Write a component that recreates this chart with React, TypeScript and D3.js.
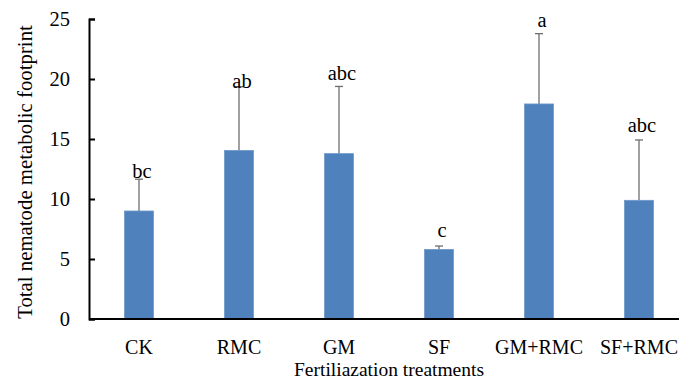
import React, { useEffect, useRef } from "react";
import * as d3 from "d3";

const treatments = ["CK", "RMC", "GM", "SF", "GM+RMC", "SF+RMC"];
const means = [9.0, 14.05, 13.78, 5.8, 17.92, 9.89];
const errorTops = [11.65, 19.36, 19.38, 6.08, 23.78, 14.92];
const letters = ["bc", "ab", "abc", "c", "a", "abc"];
const letterHeights = [11.75, 19.25, 19.95, 6.85, 24.35, 15.6];
const yTicks = [0, 5, 10, 15, 20, 25];

const FONT = "'Liberation Serif', 'Times New Roman', serif";
const FS = "20.5px";

const App: React.FC = () => {
  const svgRef = useRef<SVGSVGElement>(null);
  const width = 679;
  const height = 380;

  useEffect(() => {
    if (!svgRef.current) return;
    const svg = d3.select(svgRef.current);
    svg.selectAll("*").remove();

    const left = 89;
    const top = 19;
    const bottom = 319;

    const x = d3.scaleBand<string>()
      .domain(treatments)
      .range([left, left + 600])
      .paddingInner(0.71)
      .paddingOuter(0.355);

    const y = d3.scaleLinear().domain([0, 25]).range([bottom, top]);

    const rows = treatments.map((t, i) => ({
      t,
      mean: means[i],
      err: errorTops[i],
      letter: letters[i],
      ly: letterHeights[i],
    }));

    // error bars (upper only)
    const eb = svg.append("g");
    eb.selectAll("line.stem")
      .data(rows)
      .join("line")
      .attr("class", "stem")
      .attr("x1", d => x(d.t)! + x.bandwidth() / 2)
      .attr("x2", d => x(d.t)! + x.bandwidth() / 2)
      .attr("y1", d => y(d.mean))
      .attr("y2", d => y(d.err))
      .attr("stroke", "#6e6e6e")
      .attr("stroke-width", 1.3);
    eb.selectAll("line.cap")
      .data(rows)
      .join("line")
      .attr("class", "cap")
      .attr("x1", d => x(d.t)! + x.bandwidth() / 2 - 4)
      .attr("x2", d => x(d.t)! + x.bandwidth() / 2 + 4)
      .attr("y1", d => y(d.err))
      .attr("y2", d => y(d.err))
      .attr("stroke", "#6e6e6e")
      .attr("stroke-width", 1.3);

    svg.append("g")
      .selectAll("rect")
      .data(rows)
      .join("rect")
      .attr("x", d => x(d.t)!)
      .attr("y", d => y(d.mean))
      .attr("width", x.bandwidth())
      .attr("height", d => y(0) - y(d.mean))
      .attr("fill", "#4f81bd")
      .attr("stroke", "#6f98c9")
      .attr("stroke-width", 0.8);

    // significance letters
    svg.append("g")
      .selectAll("text")
      .data(rows)
      .join("text")
      .attr("x", d => x(d.t)! + x.bandwidth() / 2 + 3)
      .attr("y", d => y(d.ly))
      .attr("text-anchor", "middle")
      .style("font-family", FONT)
      .style("font-size", FS)
      .attr("fill", "#000")
      .text(d => d.letter);

    // y axis
    const yAxis = svg.append("g")
      .attr("transform", `translate(${left},0)`)
      .call(d3.axisRight(y).tickValues(yTicks).tickSize(6).tickSizeOuter(6).tickFormat(d3.format("d")));
    yAxis.select(".domain").attr("stroke", "#000").attr("stroke-width", 2);
    yAxis.selectAll(".tick line").attr("stroke", "#000").attr("stroke-width", 2);
    yAxis.selectAll(".tick text")
      .attr("x", -19)
      .attr("text-anchor", "end")
      .attr("dy", "0.34em")
      .style("font-family", FONT)
      .style("font-size", FS)
      .attr("fill", "#000");

    // x axis
    svg.append("line")
      .attr("x1", left)
      .attr("x2", width)
      .attr("y1", bottom)
      .attr("y2", bottom)
      .attr("stroke", "#000")
      .attr("stroke-width", 2);

    svg.append("g")
      .selectAll("text")
      .data(treatments)
      .join("text")
      .attr("x", d => x(d)! + x.bandwidth() / 2)
      .attr("y", 353.7)
      .attr("text-anchor", "middle")
      .style("font-family", FONT)
      .style("font-size", "20px")
      .attr("fill", "#000")
      .text(d => d);

    svg.append("text")
      .attr("x", (left + left + 600) / 2)
      .attr("y", 375.5)
      .attr("text-anchor", "middle")
      .style("font-family", FONT)
      .style("font-size", "19.5px")
      .attr("fill", "#000")
      .text("Fertiliazation treatments");

    svg.append("text")
      .attr("transform", `translate(32,${(top + bottom) / 2 + 3}) rotate(-90)`)
      .attr("text-anchor", "middle")
      .style("font-family", FONT)
      .style("font-size", "20.8px")
      .attr("fill", "#000")
      .text("Total nematode metabolic footprint");
  }, []);

  return (
    <svg
      ref={svgRef}
      width={width}
      height={height}
      style={{ position: "absolute", left: 0, top: 0, background: "#fff" }}
    />
  );
};

export default App;
